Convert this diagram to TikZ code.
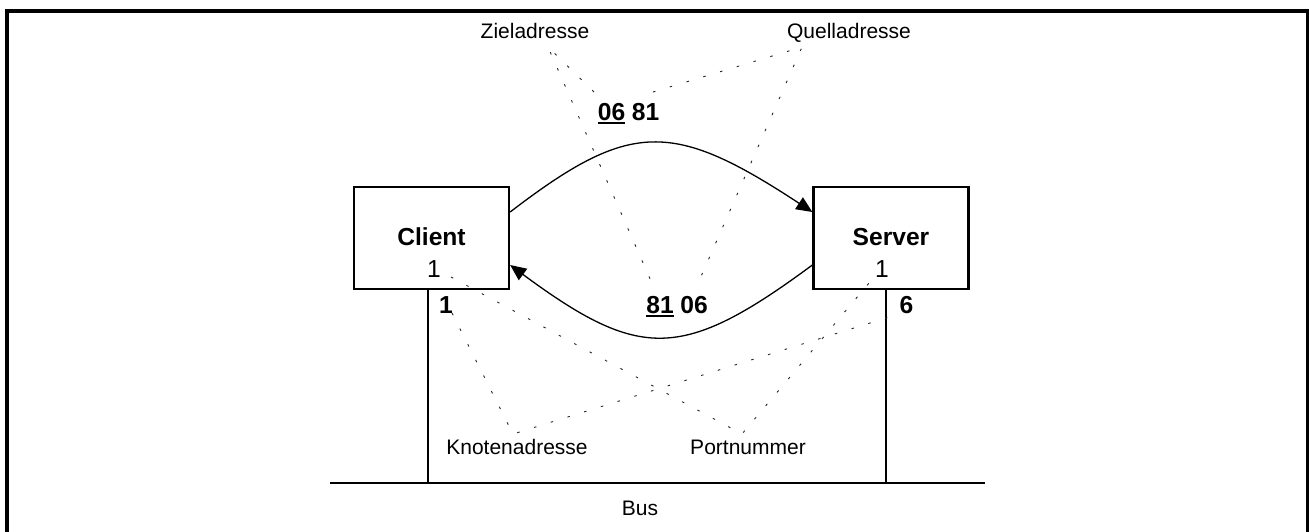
\documentclass[tikz,border=0pt]{standalone}
\usepackage{fontspec}
\setmainfont{Liberation Sans}
\usetikzlibrary{arrows.meta}

% bold number with a heavy underline
\newsavebox{\ulbox}
\newcommand{\ulnum}[1]{\sbox{\ulbox}{#1}\rlap{\rule[-4pt]{\wd\ulbox}{2pt}}\usebox{\ulbox}}

\tikzset{
  frame/.style={line width=3.7pt, line join=miter},
  unit/.style={draw, line width=2.3pt, minimum width=155pt, minimum height=102pt, inner sep=0pt},
  wire/.style={line width=2.4pt},
  msg/.style={line width=1.3pt, -{Triangle[length=16pt, width=14pt]}},
  hint/.style={line width=0.9pt, black!85, dash pattern=on 2.5pt off 15pt},
  lbl/.style={inner sep=0pt, anchor=base, font=\fontsize{21}{25}\selectfont},
  bignum/.style={inner sep=0pt, anchor=base, font=\fontsize{24.6}{29}\selectfont\bfseries},
  plainnum/.style={inner sep=0pt, anchor=base, font=\fontsize{24.6}{29}\selectfont},
}

\begin{document}
\begin{tikzpicture}[x=1pt, y=-1pt]
  \useasboundingbox (0,0) rectangle (1309,531);

  % open frame
  \draw[frame] (6.7,540) -- (6.7,11) -- (1307.5,11) -- (1307.5,540);

  % stations
  \node[unit] (client) at (431.5,238) {};
  \node[unit] (server) at (891,238) {};
  \node[bignum] (clientname) at (431.5,245) {Client};
  \node[bignum] (servername) at (891,245) {Server};
  \node[plainnum] (clientport) at (434,277) {1};
  \node[plainnum] (serverport) at (882,277) {1};
  \node[bignum] (clientnode) at (446,313) {1};
  \node[bignum] (servernode) at (906.5,313) {6};

  % bus
  \coordinate (busL) at (330,483);
  \coordinate (busR) at (985,483);
  \coordinate (ctap) at (428,483);
  \coordinate (stap) at (886,483);
  \draw[wire] (busL) -- (busR);
  \draw[wire] (client.south -| ctap) -- (ctap);
  \draw[wire] (server.south -| stap) -- (stap);
  \node[lbl] (bus) at (640,515) {Bus};

  % telegrams
  \draw[msg] ([yshift=26pt]client.east) .. controls +(120,-92) and +(-140,-92) .. ([yshift=26pt]server.west);
  \draw[msg] ([yshift=-27pt]server.west) .. controls +(-130,96) and +(130,96) .. ([yshift=-27pt]client.east);

  \node[bignum] (reqdst) at (611.5,120) {\ulnum{06}};
  \node[bignum] (reqsrc) at (645.5,120) {81};
  \node[bignum] (resdst) at (660,313) {\ulnum{81}};
  \node[bignum] (ressrc) at (694,313) {06};

  % field names
  \node[lbl] (ziel) at (535,38) {Zieladresse};
  \node[lbl] (quell) at (849,38) {Quelladresse};
  \node[lbl] (knoten) at (517,454) {Knotenadresse};
  \node[lbl] (port) at (748,454) {Portnummer};

  % pointer lines
  \coordinate (Z0) at (548,47);
  \coordinate (Zt) at (594,92);
  \coordinate (Zb) at (651,281);
  \coordinate (Q0) at (802,47);
  \coordinate (Qt) at (653,92);
  \coordinate (Qb) at (699,281);
  \coordinate (K0) at (513,434);
  \coordinate (Kc) at (452,313);
  \coordinate (Ks) at (899,314);
  \coordinate (P0) at (742,434);
  \coordinate (Pc) at (451,277);
  \coordinate (Ps) at (869,283);

  \draw[hint] (Zt) -- (Z0) -- (Zb);
  \draw[hint] (Qt) -- (Q0) -- (Qb);
  \draw[hint] (Kc) -- (K0) -- (Ks);
  \draw[hint] (Pc) -- (P0) -- (Ps);
\end{tikzpicture}
\end{document}
